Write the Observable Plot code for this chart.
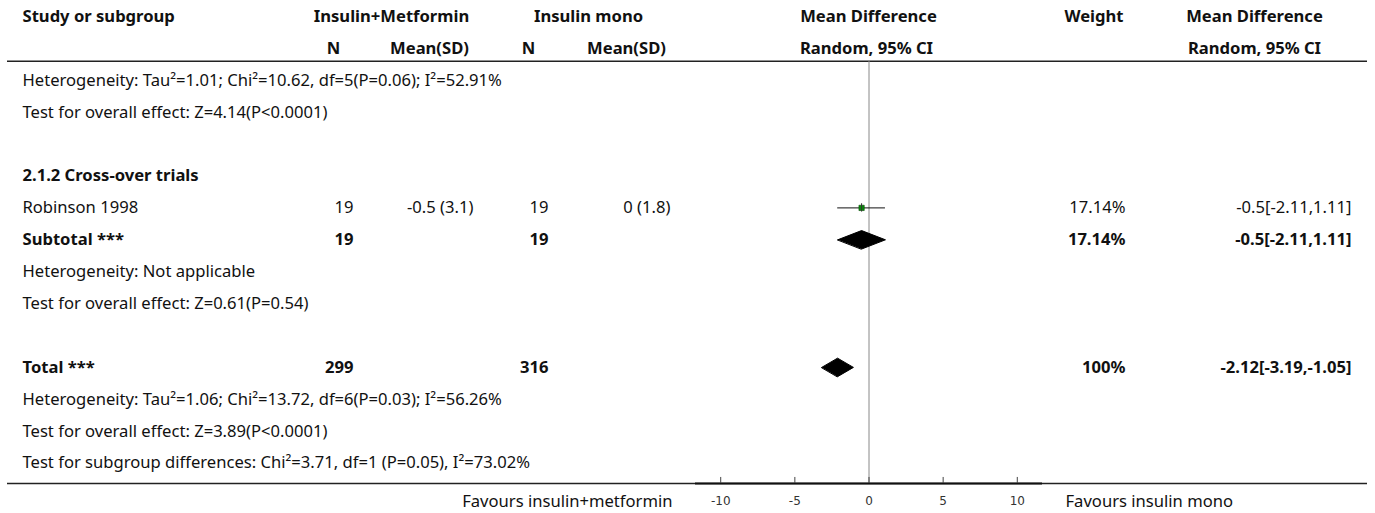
<!DOCTYPE html>
<html><head><meta charset="utf-8">
<script src="https://cdn.jsdelivr.net/npm/d3@7"></script>
<script src="https://cdn.jsdelivr.net/npm/@observablehq/plot@0.6"></script>
<style>body{margin:0;background:#fff}svg{display:block}</style>
</head><body><div id="chart"></div>
<script>
// ---- data ----
const header1 = ["Study or subgroup", "Insulin+Metformin", "Insulin mono", "Mean Difference", "Weight", "Mean Difference"];
const header2 = ["N", "Mean(SD)", "N", "Mean(SD)", "Random, 95% CI", "Random, 95% CI"];
const labels = [
  "Heterogeneity: Tau\u00b2=1.01; Chi\u00b2=10.62, df=5(P=0.06); I\u00b2=52.91%",
  "Test for overall effect: Z=4.14(P<0.0001)",
  "",
  "2.1.2 Cross-over trials",
  "Robinson 1998",
  "Subtotal ***",
  "Heterogeneity: Not applicable",
  "Test for overall effect: Z=0.61(P=0.54)",
  "",
  "Total ***",
  "Heterogeneity: Tau\u00b2=1.06; Chi\u00b2=13.72, df=6(P=0.03); I\u00b2=56.26%",
  "Test for overall effect: Z=3.89(P<0.0001)",
  "Test for subgroup differences: Chi\u00b2=3.71, df=1 (P=0.05), I\u00b2=73.02%"
];
const labelBold = [false, false, false, true, false, true, false, false, false, true, false, false, false];
const n1    = ["", "", "", "", "19", "19", "", "", "", "299", "", "", ""];
const mean1 = ["", "", "", "", "-0.5 (3.1)", "", "", "", "", "", "", "", ""];
const n2    = ["", "", "", "", "19", "19", "", "", "", "316", "", "", ""];
const mean2 = ["", "", "", "", "0 (1.8)", "", "", "", "", "", "", "", ""];
const weight = ["", "", "", "", "17.14%", "17.14%", "", "", "", "100%", "", "", ""];
const md = [null, null, null, null, -0.5, -0.5, null, null, null, -2.12, null, null, null];
const lo = [null, null, null, null, -2.11, -2.11, null, null, null, -3.19, null, null, null];
const hi = [null, null, null, null, 1.11, 1.11, null, null, null, -1.05, null, null, null];
const kind = ["", "", "", "", "study", "summary", "", "", "", "summary", "", "", ""];
const axisTicks = [-10, -5, 0, 5, 10];
const favoursLeft = "Favours insulin+metformin";
const favoursRight = "Favours insulin mono";

// ---- layout ----
const W = 1375, H = 513;
const FONT = "'Noto Sans', 'Open Sans', sans-serif";
const FS = 16.6;
const rows = labels.map((t, i) => ({
  row: i + 2, label: t, bold: labelBold[i], n1: n1[i], m1: mean1[i], n2: n2[i], m2: mean2[i],
  w: weight[i], md: md[i], lo: lo[i], hi: hi[i], kind: kind[i],
  ci: md[i] == null ? "" : `${md[i]}[${lo[i]},${hi[i]}]`
}));
const studies = rows.filter(d => d.kind === "study");
const summaries = rows.filter(d => d.kind === "summary");
const dh = 0.29;
const diamondPts = summaries.flatMap((s, k) => [
  {x: s.lo, y: s.row, id: k}, {x: s.md, y: s.row - dh, id: k},
  {x: s.hi, y: s.row, id: k}, {x: s.md, y: s.row + dh, id: k}
]);
const xDomain = [-11.7, 11.7];
const headLineY = 1.4, footLineY = 14.64, tickLabelY = 15.2;

function col(key, dx, anchor) {
  const f = rows.filter(d => d[key] !== "");
  return [
    Plot.text(f.filter(d => !d.bold), {y: "row", text: key, frameAnchor: "left", dx, textAnchor: anchor, fontSize: FS, fill: "#111"}),
    Plot.text(f.filter(d => d.bold), {y: "row", text: key, frameAnchor: "left", dx, textAnchor: anchor, fontSize: FS, fontWeight: "bold", fill: "#111"})
  ];
}
const h1pos = [[22, "start"], [391, "middle"], [588, "middle"], [868, "middle"], [1123, "end"], [1254, "middle"]];
const h2pos = [[333, "middle"], [429, "middle"], [528, "middle"], [626, "middle"], [866, "middle"], [1254, "middle"]];
const headerMarks = [
  ...header1.map((t, i) => Plot.text([t], {y: () => 0, text: d => d, frameAnchor: "left", dx: h1pos[i][0], textAnchor: h1pos[i][1], fontSize: FS, fontWeight: "bold", fill: "#111"})),
  ...header2.map((t, i) => Plot.text([t], {y: () => 1, text: d => d, frameAnchor: "left", dx: h2pos[i][0], textAnchor: h2pos[i][1], fontSize: FS, fontWeight: "bold", fill: "#111"}))
];

const chart = Plot.plot({
  width: W, height: H,
  marginLeft: 0, marginRight: 0, marginTop: 0, marginBottom: 0,
  style: {fontFamily: FONT, fontSize: FS + "px", background: "#fff", color: "#111"},
  x: {domain: xDomain, range: [695, 1042], axis: null},
  y: {domain: [0, 15], range: [16, 16 + 31.9 * 15], axis: null},
  marks: [
    ...headerMarks,
    Plot.ruleY([headLineY], {insetLeft: 7, insetRight: 8, stroke: "#222", strokeWidth: 1.5}),
    Plot.ruleX([0], {y1: headLineY, y2: footLineY, stroke: "#888", strokeWidth: 1}),
    ...col("label", 22, "start"),
    ...col("n1", 353, "end"),
    ...col("m1", 473, "end"),
    ...col("n2", 548, "end"),
    ...col("m2", 670, "end"),
    ...col("w", 1125, "end"),
    ...col("ci", 1351, "end"),
    Plot.ruleY(studies, {x1: "lo", x2: "hi", y: "row", stroke: "#111", strokeWidth: 1}),
    Plot.dot(studies, {x: "md", y: "row", symbol: "square", r: 3, fill: "#0a8a0a", stroke: "#064d06", strokeWidth: 0.6}),
    Plot.ruleX(studies, {x: "md", y1: d => d.row - 0.13, y2: d => d.row + 0.13, stroke: "#333", strokeWidth: 1}),
    Plot.line(diamondPts, {x: "x", y: "y", z: "id", fill: "#000", stroke: "#000", strokeWidth: 1, curve: "linear-closed"}),
    Plot.ruleY([footLineY], {insetLeft: 7, insetRight: 8, stroke: "#222", strokeWidth: 1.5}),
    Plot.ruleY([footLineY], {x1: xDomain[0], x2: xDomain[1], stroke: "#111", strokeWidth: 2}),
    Plot.ruleX(axisTicks, {x: d => d, y1: footLineY, y2: footLineY - 0.19, stroke: "#444", strokeWidth: 1}),
    Plot.text(axisTicks, {x: d => d, y: tickLabelY, text: d => String(d), fontSize: 12, fontFamily: "'DejaVu Sans', sans-serif", fill: "#333"}),
    Plot.text([favoursLeft], {y: () => tickLabelY, text: d => d, frameAnchor: "left", dx: 672, textAnchor: "end", fontSize: FS, fill: "#111"}),
    Plot.text([favoursRight], {y: () => tickLabelY, text: d => d, frameAnchor: "left", dx: 1065, textAnchor: "start", fontSize: FS, fill: "#111"})
  ]
});
document.getElementById("chart").append(chart);
</script>
</body></html>
